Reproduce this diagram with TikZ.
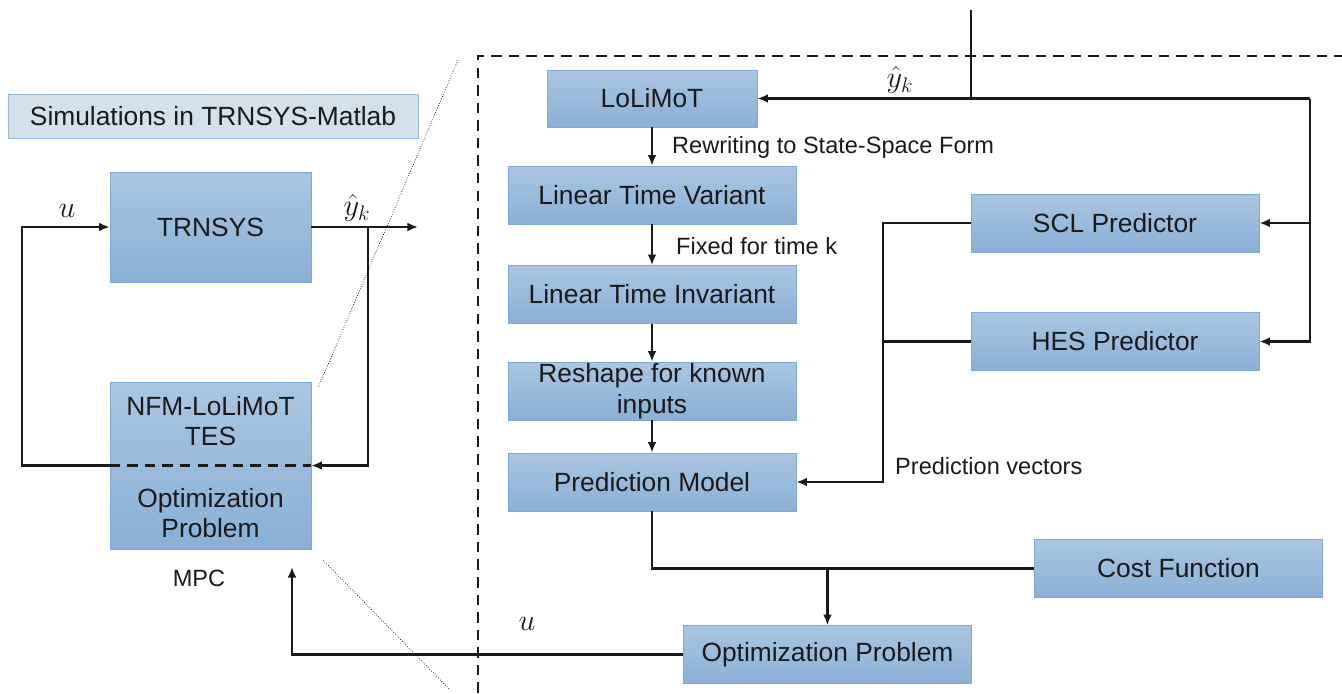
\documentclass[tikz,border=0pt]{standalone}
\usepackage{fontspec}
\setmainfont{Liberation Sans}
\usetikzlibrary{calc,arrows.meta}

\definecolor{boxtop}{HTML}{AAC6E1}
\definecolor{boxbot}{HTML}{8AB0D6}
\definecolor{boxline}{HTML}{7BA9D8}
\definecolor{titlefill}{HTML}{D5E1EA}
\definecolor{ink}{HTML}{1A1A1A}

\tikzset{
  blockbox/.style={draw=boxline, top color=boxtop, bottom color=boxbot,
    minimum width=5.76cm, minimum height=1.16cm, inner sep=0pt, text=ink,
    align=center, font=\fontsize{15}{17.5}\selectfont},
  lbl/.style={text=ink, font=\fontsize{13.4}{16}\selectfont},
  mlbl/.style={text=ink, font=\fontsize{16.5}{19}\selectfont},
  wire/.style={line width=1.25pt, draw=ink},
  framedash/.style={draw=ink, dash pattern=on 6pt off 4pt},
}

\begin{document}
\begin{tikzpicture}[x=0.02cm,y=-0.02cm,>={Latex[length=6pt,width=5pt]}]
\useasboundingbox (0,0) rectangle (1342,693);

% simulation loop
\node (title) at (213,116) [draw=boxline!80, fill=titlefill, minimum width=8.2cm, text=ink,
  minimum height=0.88cm, font=\fontsize{15}{17.5}\selectfont] {Simulations in TRNSYS-Matlab};
\node (trnsys) at (210.5,227) [blockbox, minimum width=4.02cm, minimum height=2.2cm] {TRNSYS};
\node (nfm) at (210.5,465.5) [blockbox, minimum width=4.02cm, minimum height=3.34cm] {};
\node (nfmtop) at (210.5,421) [align=center, text=ink, font=\fontsize{15}{17.5}\selectfont] {NFM-LoLiMoT\\TES};
\node (nfmbot) at (210.5,513) [align=center, text=ink, font=\fontsize{15}{17.5}\selectfont] {Optimization\\Problem};
\node (mpc) at (199,578) [lbl] {MPC};

\coordinate (yout) at (418,227);
\coordinate (ybr) at (368,227);
\coordinate (uin) at (22,227);
\coordinate (uret) at (292,567);

\draw [wire,->] (trnsys.east) -- (yout);
\draw [wire,->] (ybr) |- (nfm.east);
\draw [wire,->] (nfm.west) -| (uin) -- (trnsys.west);
\draw [wire,framedash] (nfm.west) -- (nfm.east);
\node (ulbl) at (67,211) [mlbl] {$u$};
\node (ylbl) at (357,208) [mlbl] {$\hat{y}_k$};

% zoom lines and frame
\draw [densely dotted, thin] (458,60) -- (318,388);
\draw [densely dotted, thin] (323,560) -- (450,690);
\draw [line width=1.3pt, framedash] (478,693) -- (478,56) -- (1342,56);

% MPC detail
\node (lolimot) at (652,98.5) [blockbox, minimum width=4.2cm, minimum height=1.14cm] {LoLiMoT};
\node (ltv) at (652,195) [blockbox] {Linear Time Variant};
\node (lti) at (652,294.5) [blockbox] {Linear Time Invariant};
\node (reshape) at (652,391) [blockbox] {Reshape for known\\inputs};
\node (predm) at (652,482) [blockbox] {Prediction Model};
\node (scl) at (1115,223) [blockbox] {SCL Predictor};
\node (hes) at (1115,341.5) [blockbox] {HES Predictor};
\node (cost) at (1178.5,568.5) [blockbox] {Cost Function};
\node (optim) at (827.5,654.5) [blockbox] {Optimization Problem};

\foreach \a/\b in {lolimot/ltv, ltv/lti, lti/reshape, reshape/predm}
  {
    \draw [wire,->] (\a) -- (\b);
  }

\node (rwlbl) at (666,147) [lbl, anchor=west] {Rewriting to State-Space Form};
\node (fxlbl) at (670,246) [lbl, anchor=west] {Fixed for time k};

\coordinate (ytop) at (971,10);
\coordinate (rcorner) at (1310,98.5);
\draw [wire,->] (ytop) |- (lolimot.east);
\draw [wire] (ytop |- lolimot.east) -- (rcorner);
\draw [wire,->] (rcorner) |- (scl.east);
\draw [wire,->] (rcorner) |- (hes.east);
\node (ylbl2) at (900,80) [mlbl] {$\hat{y}_k$};

\coordinate (pvjoin) at (883,482);
\draw [wire,->] (scl.west) -| (pvjoin) -- (predm.east);
\draw [wire] (hes.west) -- (hes.west -| pvjoin);
\node (pvlbl) at (889,466) [lbl, anchor=west] {Prediction vectors};

\draw [wire] (predm.south) |- (cost.west);
\draw [wire,->] (optim.north |- cost.west) -- (optim.north);
\draw [wire,->] (optim.west) -| (uret);
\node (ulbl2) at (527,624) [mlbl] {$u$};

\end{tikzpicture}
\end{document}
